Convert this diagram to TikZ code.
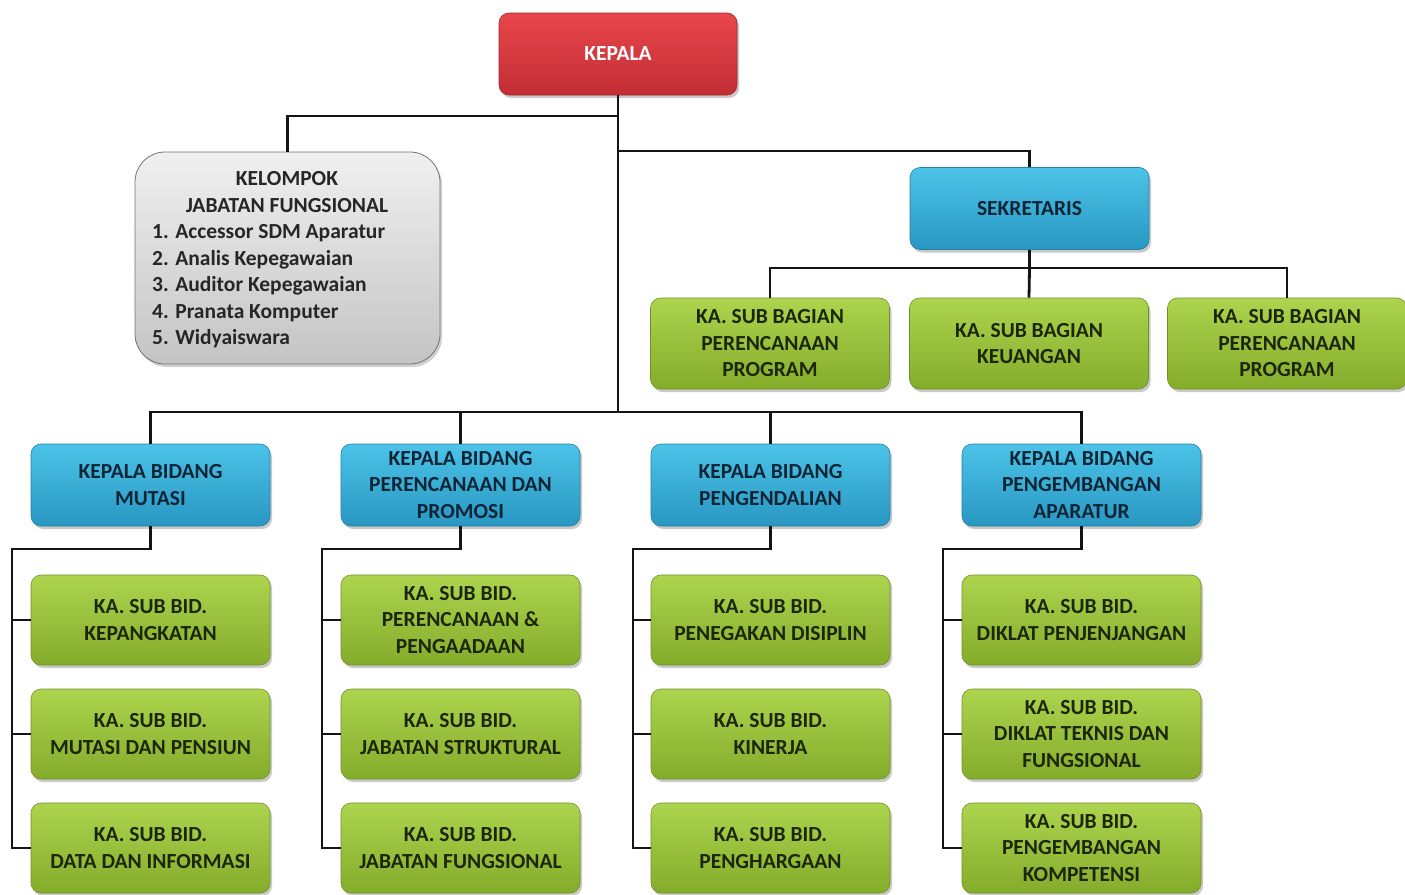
\documentclass[tikz,border=0pt]{standalone}
\usepackage{fontspec}
\setmainfont{Carlito}
\usetikzlibrary{shadows}
\definecolor{redtop}{HTML}{E8464C}
\definecolor{redbot}{HTML}{C22E34}
\definecolor{bluetop}{HTML}{4CC3E8}
\definecolor{bluebot}{HTML}{2897C2}
\definecolor{greentop}{HTML}{ADD44E}
\definecolor{greenbot}{HTML}{84AC2B}
\definecolor{graytop}{HTML}{F0F0F0}
\definecolor{graybot}{HTML}{C4C4C4}
\definecolor{bluetext}{HTML}{0E2536}
\definecolor{greentext}{HTML}{1C2608}
\definecolor{linecol}{HTML}{141414}
\tikzset{
  boxbase/.style={rounded corners=10pt, align=center, inner sep=0pt,
    font=\fontsize{21.5}{26.5}\selectfont\bfseries,
    drop shadow={shadow xshift=2pt, shadow yshift=-3pt, opacity=0.35, fill=black!60}},
  redbox/.style={boxbase, top color=redtop, bottom color=redbot, draw=redbot!85!black, line width=0.6pt,
    text=white, minimum width=238pt, minimum height=82pt},
  bluebox/.style={boxbase, top color=bluetop, bottom color=bluebot, draw=bluebot!85!black, line width=0.6pt,
    text=bluetext, minimum width=239pt, minimum height=82pt},
  greenbox/.style={boxbase, top color=greentop, bottom color=greenbot, draw=greenbot!85!black, line width=0.6pt,
    text=greentext, minimum width=239pt, minimum height=90pt},
  graybox/.style={rounded corners=30pt, top color=graytop, bottom color=graybot, draw=black!55, line width=0.8pt,
    minimum width=305pt, minimum height=212pt,
    drop shadow={shadow xshift=2pt, shadow yshift=-3pt, opacity=0.3, fill=black!60}},
  graytext/.style={inner sep=0pt, font=\fontsize{21.5}{26.5}\selectfont\bfseries, text=black!85},
  conn/.style={draw=linecol, line width=2.8pt},
}
\begin{document}
\begin{tikzpicture}[x=1pt, y=-1pt]
\useasboundingbox[fill=white] (0,0) rectangle (1405,894);

% top
\node[redbox] (kepala) at (618,54) {KEPALA};
\node[graybox] (kjf) at (287.5,258) {};
\node[graytext, align=center] (kjfhead) at (287,192) {KELOMPOK\\JABATAN FUNGSIONAL};
\node[graytext, align=left, anchor=north west] (kjflist) at (152,224.5) {1. Accessor SDM Aparatur\\2. Analis Kepegawaian\\3. Auditor Kepegawaian\\4. Pranata Komputer\\5. Widyaiswara};

\node[bluebox] (sek) at (1029.5,208.5) {SEKRETARIS};
\node[greenbox, minimum height=91pt] (sb1) at (770,343.5) {KA. SUB BAGIAN\\PERENCANAAN\\PROGRAM};
\node[greenbox, minimum height=91pt] (sb2) at (1029,343.5) {KA. SUB BAGIAN\\KEUANGAN};
\node[greenbox, minimum height=91pt] (sb3) at (1287,343.5) {KA. SUB BAGIAN\\PERENCANAAN\\PROGRAM};

% bidang
\node[bluebox] (b1) at (150.5,485) {KEPALA BIDANG\\MUTASI};
\node[bluebox] (b2) at (460.5,485) {KEPALA BIDANG\\PERENCANAAN DAN\\PROMOSI};
\node[bluebox] (b3) at (770.5,485) {KEPALA BIDANG\\PENGENDALIAN};
\node[bluebox] (b4) at (1081.5,485) {KEPALA BIDANG\\PENGEMBANGAN\\APARATUR};

\node[greenbox] (g11) at (150.5,620) {KA. SUB BID.\\KEPANGKATAN};
\node[greenbox] (g12) at (150.5,734) {KA. SUB BID.\\MUTASI DAN PENSIUN};
\node[greenbox] (g13) at (150.5,848) {KA. SUB BID.\\DATA DAN INFORMASI};

\node[greenbox] (g21) at (460.5,620) {KA. SUB BID.\\PERENCANAAN \&\\PENGAADAAN};
\node[greenbox] (g22) at (460.5,734) {KA. SUB BID.\\JABATAN STRUKTURAL};
\node[greenbox] (g23) at (460.5,848) {KA. SUB BID.\\JABATAN FUNGSIONAL};

\node[greenbox] (g31) at (770.5,620) {KA. SUB BID.\\PENEGAKAN DISIPLIN};
\node[greenbox] (g32) at (770.5,734) {KA. SUB BID.\\KINERJA};
\node[greenbox] (g33) at (770.5,848) {KA. SUB BID.\\PENGHARGAAN};

\node[greenbox] (g41) at (1081.5,620) {KA. SUB BID.\\DIKLAT PENJENJANGAN};
\node[greenbox] (g42) at (1081.5,734) {KA. SUB BID.\\DIKLAT TEKNIS DAN\\FUNGSIONAL};
\node[greenbox] (g43) at (1081.5,848) {KA. SUB BID.\\PENGEMBANGAN\\KOMPETENSI};

% junction coordinates
\coordinate (jk) at (618,116);
\coordinate (js) at (618,151);
\coordinate (hub) at (618,412);
\coordinate (ss) at (1029.5,268);
\coordinate (c1) at (12,549);
\coordinate (c2) at (322,549);
\coordinate (c3) at (633,549);
\coordinate (c4) at (943,549);

\path[conn] (kepala.south) -- (hub);
\path[conn] (kjf.north) |- (jk);
\path[conn] (js) -| (sek.north);
\path[conn] (sek.south) -- (ss);
\path[conn] (sb1.north) |- (ss) -| (sb3.north);
\path[conn] (ss) -- (sb2.north);
\path[conn] (b1.north) |- (hub) -| (b4.north);
\path[conn] (b2.north) -- (b2.north |- hub);
\path[conn] (b3.north) -- (b3.north |- hub);

\path[conn] (b1.south) |- (c1) |- (g13.west);
\path[conn] (c1 |- g11.west) -- (g11.west);
\path[conn] (c1 |- g12.west) -- (g12.west);
\path[conn] (b2.south) |- (c2) |- (g23.west);
\path[conn] (c2 |- g21.west) -- (g21.west);
\path[conn] (c2 |- g22.west) -- (g22.west);
\path[conn] (b3.south) |- (c3) |- (g33.west);
\path[conn] (c3 |- g31.west) -- (g31.west);
\path[conn] (c3 |- g32.west) -- (g32.west);
\path[conn] (b4.south) |- (c4) |- (g43.west);
\path[conn] (c4 |- g41.west) -- (g41.west);
\path[conn] (c4 |- g42.west) -- (g42.west);
\end{tikzpicture}
\end{document}
